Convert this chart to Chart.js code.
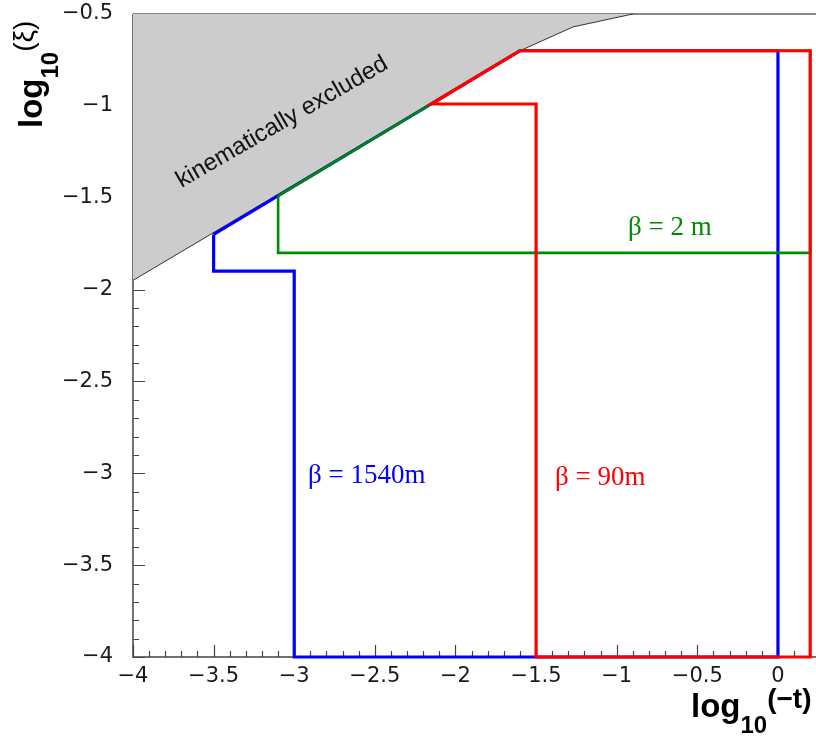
<!DOCTYPE html>
<html>
<head>
<meta charset="utf-8">
<title>log10(xi) vs log10(-t) acceptance</title>
<script src="https://cdn.jsdelivr.net/npm/chart.js@4"></script>
<style>
  html, body { margin: 0; padding: 0; background: #fff; }
  #wrap { width: 816px; height: 737px; }
</style>
</head>
<body>
<div id="wrap"><canvas id="accChart" width="816" height="737"></canvas></div>
<script>
/* -------------------------------
   DATA
--------------------------------*/

// kinematic limit (region above is shaded)
const limitX = [-4, -1.6, -1.27, -0.9];
const limitY = [-1.95, -0.7, -0.57, -0.5];

// upper edge of the plot, xi = -0.5
const edgeX = [-4, 0.236];
const edgeY = [-0.5, -0.5];

// acceptance contours for each optics
const beta1540X = [-3.5, -3.5, -3, -3, 0, 0, -1.6, -3.5];
const beta1540Y = [-1.7, -1.9, -1.9, -4, -4, -0.7, -0.7, -1.7];

const beta2X = [-3.1, -3.1, 0.2, 0.2, -1.6, -3.1];
const beta2Y = [-1.49, -1.8, -1.8, -0.7, -0.7, -1.49];

const beta90X = [-1.6, 0.2, 0.2, -1.5, -1.5, -2.15, -1.6];
const beta90Y = [-0.7, -0.7, -4, -4, -0.99, -0.99, -0.7];

// axis ticks
const xTickValues = [-4, -3.5, -3, -2.5, -2, -1.5, -1, -0.5, 0];
const yTickValues = [-4, -3.5, -3, -2.5, -2, -1.5, -1, -0.5];

const X_MIN = -4, X_MAX = 0.236;
const Y_MIN = -4, Y_MAX = -0.5;

const BLUE = "#0000ff";
const RED = "#ff0000";
const GREEN = "#008a00";

function toPoints(xs, ys) {
  return xs.map((x, i) => ({ x: x, y: ys[i] }));
}

function fmtTick(v) {
  if (Math.abs(v) < 1e-9) return "0";
  return (v < 0 ? "\u2212" : "") + Math.abs(v);
}

/* -------------------------------
   FRAME, TICKS, TITLES, LABELS
--------------------------------*/
const framePlugin = {
  id: "frame",
  beforeDatasetsDraw(chart) {
    const { ctx, chartArea: a, scales: { x, y } } = chart;
    ctx.save();

    // axes (left and bottom)
    ctx.strokeStyle = "#444";
    ctx.lineWidth = 1.5;
    ctx.beginPath();
    ctx.moveTo(a.left, a.top);
    ctx.lineTo(a.left, a.bottom);
    ctx.lineTo(a.right, a.bottom);
    ctx.stroke();

    // inward ticks, minor every 0.1, major every 0.5
    ctx.lineWidth = 1.2;
    ctx.beginPath();
    for (let i = 0; i <= 42; i++) {
      const px = Math.round(x.getPixelForValue(X_MIN + i / 10)) + 0.5;
      const len = i % 5 === 0 ? 12 : 6;
      ctx.moveTo(px, a.bottom);
      ctx.lineTo(px, a.bottom - len);
    }
    for (let i = 0; i <= 35; i++) {
      const py = Math.round(y.getPixelForValue(Y_MIN + i / 10)) + 0.5;
      const len = i % 5 === 0 ? 12 : 6;
      ctx.moveTo(a.left, py);
      ctx.lineTo(a.left + len, py);
    }
    ctx.stroke();
    ctx.restore();
  },
  afterDatasetsDraw(chart) {
    const { ctx, scales: { x, y } } = chart;
    ctx.save();
    ctx.textBaseline = "alphabetic";
    ctx.textAlign = "left";

    ctx.font = "27px 'Liberation Serif'";
    ctx.fillStyle = BLUE;
    ctx.fillText("\u03b2 = 1540m", x.getPixelForValue(-2.915), y.getPixelForValue(-3.053));
    ctx.fillStyle = RED;
    ctx.fillText("\u03b2 = 90m", x.getPixelForValue(-1.383), y.getPixelForValue(-3.064));
    ctx.fillStyle = GREEN;
    ctx.fillText("\u03b2 = 2 m", x.getPixelForValue(-0.93), y.getPixelForValue(-1.703));

    // label along the kinematic limit
    ctx.save();
    ctx.translate(x.getPixelForValue(-3.055), y.getPixelForValue(-1.12));
    ctx.rotate(-30 * Math.PI / 180);
    ctx.font = "24px 'Liberation Sans'";
    ctx.fillStyle = "#111";
    ctx.textAlign = "center";
    ctx.fillText("kinematically excluded", 0, 0);
    ctx.restore();

    ctx.restore();
  },
  afterDraw(chart) {
    const ctx = chart.ctx;
    ctx.save();
    ctx.fillStyle = "#000";
    ctx.textBaseline = "alphabetic";
    ctx.textAlign = "left";

    // x title: log10(-t)
    let px = 691;
    ctx.font = "bold 33px 'Liberation Sans'";
    ctx.fillText("log", px, 717);
    px += ctx.measureText("log").width;
    ctx.font = "bold 24px 'Liberation Sans'";
    ctx.fillText("10", px, 733);
    px += ctx.measureText("10").width;
    ctx.font = "bold 28px 'Liberation Sans'";
    ctx.fillText("(\u2212t)", px, 708);

    // y title: log10(xi), rotated
    ctx.translate(42, 128);
    ctx.rotate(-Math.PI / 2);
    let p = 0;
    ctx.font = "bold 33px 'Liberation Sans'";
    ctx.fillText("log", p, 0);
    p += ctx.measureText("log").width;
    ctx.font = "bold 24px 'Liberation Sans'";
    ctx.fillText("10", p, 16);
    p += ctx.measureText("10").width;
    ctx.font = "28px 'Liberation Sans'";
    ctx.fillText("(\u03be)", p, -9);

    ctx.restore();
  }
};

/* -------------------------------
   CHART
--------------------------------*/
const tickFont = { family: "'DejaVu Sans'", size: 21 };

const lineSet = (label, xs, ys, color, width, order) => ({
  label: label,
  data: toPoints(xs, ys),
  borderColor: color,
  borderWidth: width,
  pointRadius: 0,
  fill: false,
  tension: 0,
  showLine: true,
  clip: false,
  order: order
});

// no extra room for the outermost tick labels
const noPad = s => {
  s.paddingTop = 0;
  s.paddingBottom = 0;
  s.paddingLeft = 0;
  s.paddingRight = 0;
};

new Chart(document.getElementById("accChart"), {
  type: "line",
  data: {
    datasets: [
      lineSet("beta 90m", beta90X, beta90Y, RED, 3.2, 0),
      lineSet("beta 2m", beta2X, beta2Y, GREEN, 2.6, 1),
      lineSet("beta 1540m", beta1540X, beta1540Y, BLUE, 3.2, 2),
      {
        label: "kinematic limit",
        data: toPoints(limitX, limitY),
        borderColor: "#333",
        borderWidth: 1,
        backgroundColor: "#cccccc",
        fill: "end",
        pointRadius: 0,
        tension: 0,
        clip: false,
        order: 3
      },
      lineSet("edge", edgeX, edgeY, "#888", 2, 4)
    ]
  },
  options: {
    responsive: false,
    animation: false,
    layout: { padding: { top: 14, right: 0, left: 0, bottom: 0 } },
    plugins: {
      legend: { display: false },
      tooltip: { enabled: false }
    },
    scales: {
      x: {
        type: "linear",
        min: X_MIN,
        max: X_MAX,
        afterBuildTicks: s => { s.ticks = xTickValues.map(v => ({ value: v })); },
        afterFit: s => { s.height = 80; noPad(s); },
        grid: { display: false, drawTicks: false },
        border: { display: false },
        ticks: {
          autoSkip: false,
          maxRotation: 0,
          padding: 7,
          color: "#1a1a1a",
          font: tickFont,
          callback: v => fmtTick(v)
        }
      },
      y: {
        type: "linear",
        min: Y_MIN,
        max: Y_MAX,
        afterBuildTicks: s => { s.ticks = yTickValues.map(v => ({ value: v })); },
        afterFit: s => { s.width = 133; noPad(s); },
        grid: { display: false, drawTicks: false },
        border: { display: false },
        ticks: {
          autoSkip: false,
          padding: 20,
          color: "#1a1a1a",
          font: tickFont,
          callback: v => fmtTick(v)
        }
      }
    }
  },
  plugins: [framePlugin]
});
</script>
</body>
</html>
